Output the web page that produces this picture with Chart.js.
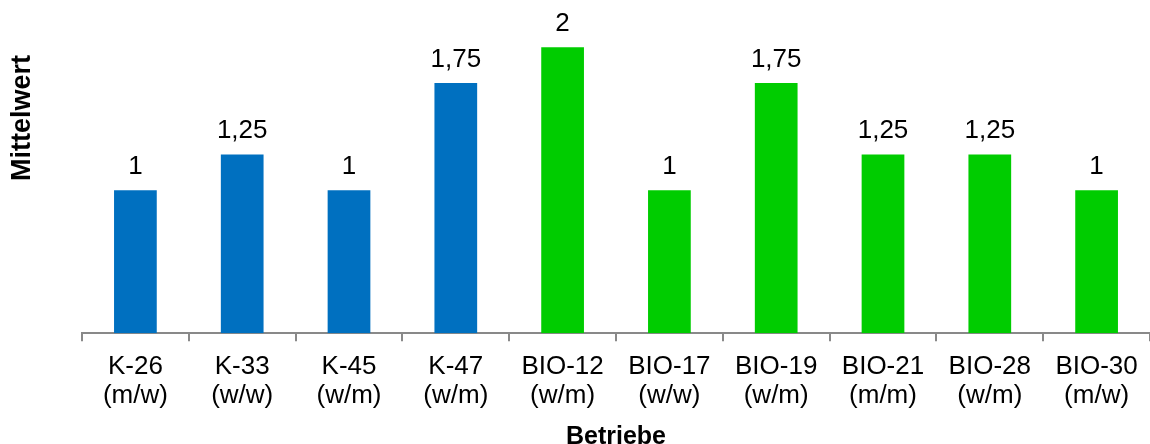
<!DOCTYPE html>
<html>
<head>
<meta charset="utf-8">
<script src="https://cdn.jsdelivr.net/npm/chart.js@4/dist/chart.umd.min.js"></script>
<style>
  html, body { margin: 0; padding: 0; background: #fff; }
  #wrap { width: 1150px; height: 444px; }
</style>
</head>
<body>
<div id="wrap"><canvas id="chart"></canvas></div>
<script>
const betriebe = ["K-26", "K-33", "K-45", "K-47", "BIO-12", "BIO-17", "BIO-19", "BIO-21", "BIO-28", "BIO-30"]
const paare = ["(m/w)", "(w/w)", "(w/m)", "(w/m)", "(w/m)", "(w/w)", "(w/m)", "(m/m)", "(w/m)", "(m/w)"]
const mittelwerte = [1, 1.25, 1, 1.75, 2, 1, 1.75, 1.25, 1.25, 1]
const gruppe = ["K", "K", "K", "K", "BIO", "BIO", "BIO", "BIO", "BIO", "BIO"]

function barColor(g) {
    if (g === "K") {
        return "#0070C0"
    }
    return "#00CC00"
}

// Werte über den Balken, deutsches Komma
const valueLabels = {
    id: 'valueLabels',
    afterDatasetsDraw(chart) {
        const ctx = chart.ctx
        const meta = chart.getDatasetMeta(0)
        ctx.save()
        ctx.font = '26px "Liberation Sans", Arial, sans-serif'
        ctx.fillStyle = '#000'
        ctx.textAlign = 'center'
        ctx.textBaseline = 'alphabetic'
        meta.data.forEach((bar, i) => {
            ctx.fillText(String(mittelwerte[i]).replace('.', ','), bar.x, bar.y - 16)
        })
        ctx.restore()
    }
}

// Achsentitel links
const yTitle = {
    id: 'yTitle',
    afterDraw(chart) {
        const ctx = chart.ctx
        ctx.save()
        ctx.translate(23, 118)
        ctx.rotate(-Math.PI / 2)
        ctx.font = 'bold 27px "Liberation Sans", Arial, sans-serif'
        ctx.fillStyle = '#000'
        ctx.textAlign = 'center'
        ctx.textBaseline = 'middle'
        ctx.fillText('Mittelwert', 0, 0)
        ctx.restore()
    }
}

new Chart(document.getElementById('chart').getContext('2d'), {
    type: 'bar',
    data: {
        labels: betriebe.map((b, i) => [b, paare[i]]),
        datasets: [{
            label: "Mittelwert",
            data: mittelwerte,
            backgroundColor: gruppe.map(barColor),
            barPercentage: 0.8,
            categoryPercentage: 0.5
        }]
    },
    options: {
        responsive: true,
        maintainAspectRatio: false,
        animation: false,
        layout: { padding: { left: 82, right: 0, top: 0, bottom: -2 } },
        plugins: {
            legend: { display: false },
            tooltip: { enabled: false }
        },
        scales: {
            x: {
                grid: {
                    offset: true,
                    drawOnChartArea: false,
                    drawTicks: true,
                    tickLength: 8,
                    color: '#898989',
                    lineWidth: 2
                },
                border: { color: '#898989', width: 2 },
                ticks: {
                    color: '#000',
                    padding: 11,
                    maxRotation: 0,
                    autoSkip: false,
                    font: { family: '"Liberation Sans", Arial, sans-serif', size: 26, lineHeight: 1.12 }
                },
                title: {
                    display: true,
                    text: 'Betriebe',
                    color: '#000',
                    padding: { top: 7, bottom: 0 },
                    font: { family: '"Liberation Sans", Arial, sans-serif', size: 25, weight: 'bold', lineHeight: 0.7 }
                }
            },
            y: {
                display: false,
                min: 0,
                max: 2.33
            }
        }
    },
    plugins: [valueLabels, yTitle]
});
</script>
</body>
</html>
